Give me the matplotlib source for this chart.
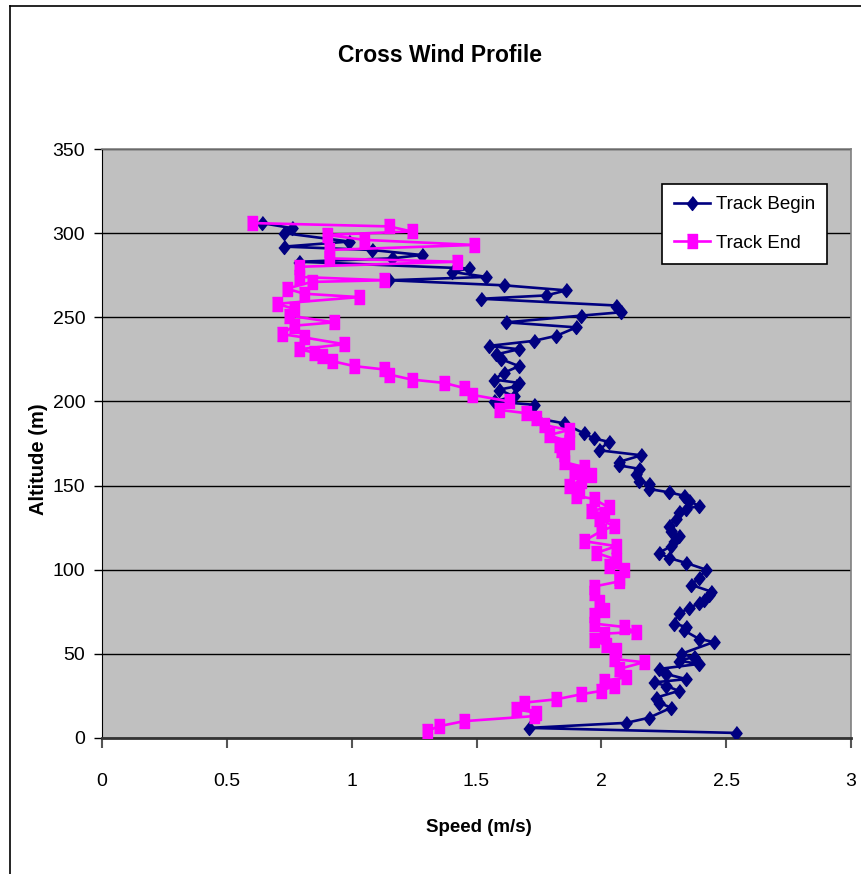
import matplotlib
matplotlib.use("Agg")
import matplotlib.pyplot as plt
from matplotlib.lines import Line2D

# data: (altitude [m], speed [m/s])
begin_alt = [3, 6, 9, 12, 18, 21, 24, 28, 31, 33, 35, 38, 41, 44, 46, 48, 50,
             57, 59, 64, 66, 68, 74, 77, 80, 82, 85, 87, 91, 95, 100, 104, 107,
             110, 114, 117, 120, 123, 126, 130, 134, 136, 138, 141, 144, 146,
             148, 151, 153, 157, 160, 162, 164, 168, 171, 176, 178, 181, 187,
             190, 198, 200, 203, 207, 209, 211, 213, 217, 221, 225, 228, 231,
             233, 236, 239, 244, 247, 251, 253, 257, 261, 263, 266, 269, 272,
             274, 277, 279, 283, 285, 287, 290, 292, 295, 300, 303, 306]
begin_speed = [2.54, 1.71, 2.10, 2.19, 2.28, 2.23, 2.22, 2.31, 2.26, 2.21, 2.34,
               2.26, 2.23, 2.39, 2.31, 2.37, 2.32, 2.45, 2.39, 2.33, 2.34, 2.29,
               2.31, 2.35, 2.39, 2.41, 2.43, 2.44, 2.36, 2.39, 2.42, 2.34, 2.27,
               2.23, 2.28, 2.29, 2.31, 2.28, 2.27, 2.30, 2.31, 2.34, 2.39, 2.35,
               2.33, 2.27, 2.19, 2.19, 2.15, 2.14, 2.15, 2.07, 2.07, 2.16, 1.99,
               2.03, 1.97, 1.93, 1.85, 1.74, 1.73, 1.57, 1.65, 1.59, 1.66, 1.67,
               1.57, 1.61, 1.67, 1.60, 1.58, 1.67, 1.55, 1.73, 1.82, 1.90, 1.62,
               1.92, 2.08, 2.06, 1.52, 1.78, 1.86, 1.61, 1.15, 1.54, 1.40, 1.47,
               0.79, 1.16, 1.28, 1.08, 0.73, 0.99, 0.73, 0.76, 0.64]

end_alt = [4, 7, 10, 13, 15, 17, 21, 23, 26, 28, 31, 34, 36, 41, 45, 47, 52,
           55, 58, 62, 63, 66, 68, 73, 76, 81, 86, 90, 93, 95, 100, 102, 106,
           110, 114, 117, 123, 126, 130, 133, 135, 137, 142, 144, 147, 150, 153,
           156, 158, 161, 164, 169, 171, 174, 176, 180, 183, 186, 190, 193, 195,
           200, 204, 208, 211, 213, 216, 219, 221, 224, 227, 229, 231, 234, 238,
           240, 245, 247, 251, 255, 258, 262, 264, 267, 271, 272, 274, 280, 283,
           285, 290, 293, 296, 299, 301, 304, 306]
end_speed = [1.30, 1.35, 1.45, 1.73, 1.74, 1.66, 1.69, 1.82, 1.92, 2.00, 2.05,
             2.01, 2.10, 2.07, 2.17, 2.05, 2.06, 2.02, 1.97, 2.01, 2.14, 2.09,
             1.97, 1.97, 2.01, 1.99, 1.97, 1.97, 2.07, 2.07, 2.09, 2.03, 2.06,
             1.98, 2.06, 1.93, 2.00, 2.05, 1.99, 2.01, 1.96, 2.03, 1.97, 1.90,
             1.91, 1.87, 1.92, 1.96, 1.89, 1.93, 1.85, 1.85, 1.84, 1.83, 1.87,
             1.79, 1.87, 1.77, 1.74, 1.70, 1.59, 1.63, 1.48, 1.45, 1.37, 1.24,
             1.15, 1.13, 1.01, 0.92, 0.88, 0.85, 0.79, 0.97, 0.81, 0.72, 0.77,
             0.93, 0.75, 0.77, 0.70, 1.03, 0.81, 0.74, 0.84, 1.13, 0.79, 0.79,
             1.42, 0.91, 0.91, 1.49, 1.05, 0.90, 1.24, 1.15, 0.60]

x_ticks = [0, 0.5, 1, 1.5, 2, 2.5, 3]
x_labels = ["0", "0.5", "1", "1.5", "2", "2.5", "3"]
y_ticks = [0, 50, 100, 150, 200, 250, 300, 350]

plt.rcParams["font.family"] = ["Liberation Sans", "DejaVu Sans"]

W, H = 861, 874
fig = plt.figure(figsize=(W / 100, H / 100), dpi=100)
ax = fig.add_axes([102 / W, 1 - 738 / H, 749 / W, 589 / H])
ax.set_facecolor("#C0C0C0")

diamond = [(0, 1), (0.8, 0), (0, -1), (-0.8, 0)]
square = [(-0.75, -1), (0.75, -1), (0.75, 1), (-0.75, 1)]

ax.plot(begin_speed, begin_alt, color="#000080", lw=1.9, marker=diamond,
        ms=10, mfc="#000080", mec="#000080", label="Track Begin", zorder=3)
ax.plot(end_speed, end_alt, color="#FF00FF", lw=1.9, marker=square,
        ms=9.5, mfc="#FF00FF", mec="#FF00FF", label="Track End", zorder=3)

ax.set_xlim(0, 3)
ax.set_ylim(0, 350)
ax.set_xticks(x_ticks)
ax.set_xticklabels(x_labels)
ax.set_yticks(y_ticks)
ax.yaxis.grid(True, color="black", lw=1)
ax.set_axisbelow(True)
ax.tick_params(axis="x", length=7, width=1.5, color="#555555", pad=18,
               labelsize=14)
ax.tick_params(axis="y", length=6, width=1, color="black", pad=6,
               labelsize=14)
ax.spines["left"].set_color("black")
ax.spines["bottom"].set_color("#333333")
ax.spines["bottom"].set_linewidth(2)
for s in ["top", "right"]:
    ax.spines[s].set_color("#808080")
    ax.spines[s].set_linewidth(1.2)

leg = ax.legend(loc="upper right", bbox_to_anchor=(0.968, 0.9406),
                borderaxespad=0, fontsize=13.5, frameon=True, fancybox=False,
                edgecolor="black", framealpha=1, handlelength=1.9,
                handletextpad=0.3, labelspacing=1.15, borderpad=0.65)
leg.get_frame().set_linewidth(1.2)

fig.text(440 / W, 1 - 56 / H, "Cross Wind Profile", ha="center", va="center",
         fontsize=16.5, fontweight="bold")
fig.text(479 / W, 1 - 827 / H, "Speed (m/s)", ha="center", va="center",
         fontsize=13.5, fontweight="bold")
fig.text(38 / W, 1 - 459 / H, "Altitude (m)", ha="center", va="center",
         rotation=90, fontsize=14.5, fontweight="bold")

# outer chart border
fig.add_artist(Line2D([10 / W, 10 / W], [0, 1 - 6 / H], color="black",
                      lw=1.2, transform=fig.transFigure))
fig.add_artist(Line2D([10 / W, 1], [1 - 6 / H, 1 - 6 / H], color="black",
                      lw=1.2, transform=fig.transFigure))

fig.savefig("out.png", dpi=100)
